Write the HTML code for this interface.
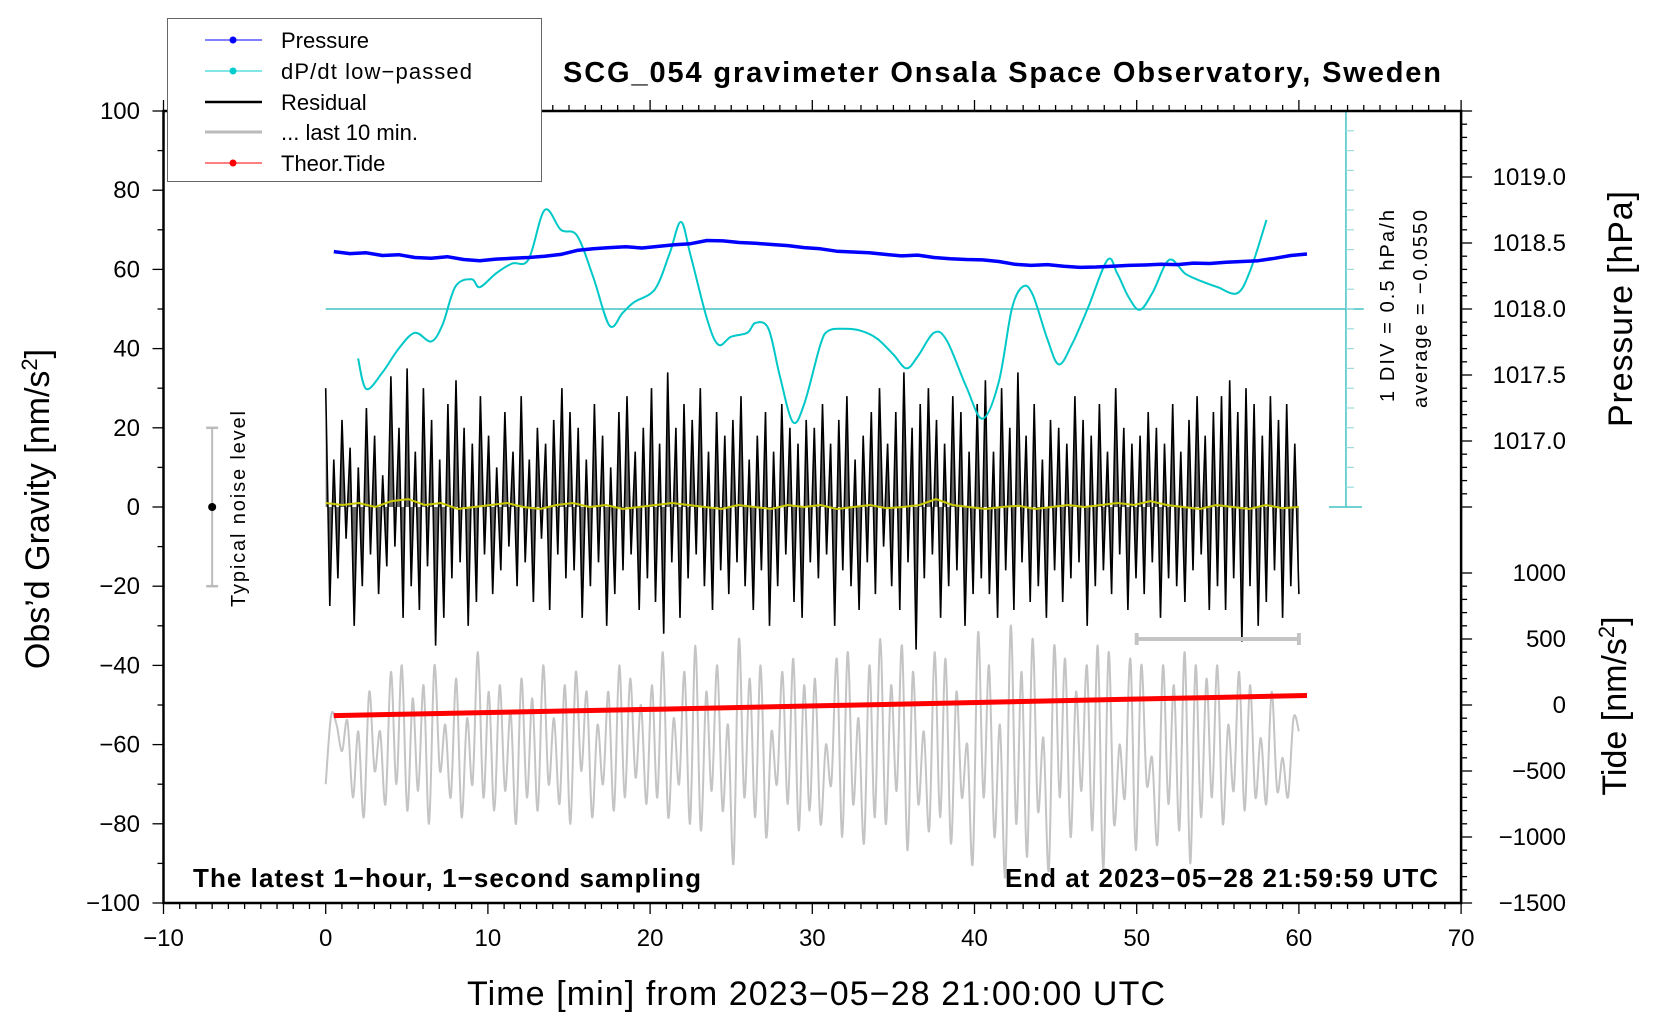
<!DOCTYPE html>
<html><head><meta charset="utf-8"><style>
html,body{margin:0;padding:0;background:#fff;}
svg{display:block;font-family:"Liberation Sans",Arial,sans-serif;}
</style></head><body>
<svg id="chart" width="1660" height="1020" viewBox="0 0 1660 1020">
<rect width="1660" height="1020" fill="#fff"/>
<g id="plot"></g>
<g id="axes"></g>
<text x="1002" y="82" text-anchor="middle" font-size="29" font-weight="bold" textLength="878">SCG_054 gravimeter Onsala Space Observatory, Sweden</text>
<text x="193" y="887" font-size="26" font-weight="bold" textLength="508">The latest 1−hour, 1−second sampling</text>
<text x="1438" y="887" text-anchor="end" font-size="26" font-weight="bold" textLength="433">End at 2023−05−28 21:59:59 UTC</text>
<text x="816" y="1005" text-anchor="middle" font-size="34" textLength="698">Time [min] from 2023−05−28 21:00:00 UTC</text>
<text transform="translate(49,509) rotate(-90)" text-anchor="middle" font-size="34">Obs’d Gravity [nm/s<tspan dy="-12" font-size="22">2</tspan><tspan dy="12">]</tspan></text>
<text transform="translate(1632,309) rotate(-90)" text-anchor="middle" font-size="34" textLength="236">Pressure [hPa]</text>
<text transform="translate(1626,706) rotate(-90)" text-anchor="middle" font-size="34">Tide [nm/s<tspan dy="-12" font-size="22">2</tspan><tspan dy="12">]</tspan></text>
<text transform="translate(1394,306) rotate(-90)" text-anchor="middle" font-size="20" textLength="192">1 DIV = 0.5 hPa/h</text>
<text transform="translate(1427,309) rotate(-90)" text-anchor="middle" font-size="20" textLength="198">average = −0.0550</text>
<text transform="translate(245,509) rotate(-90)" text-anchor="middle" font-size="20" textLength="196">Typical noise level</text>
<g>
<rect x="167.5" y="18.5" width="374" height="163" fill="#fff" stroke="#666" stroke-width="1"/>
<g><line x1="205" y1="40" x2="262" y2="40" stroke="#00f" stroke-width="1"/><circle cx="233" cy="40" r="3.5" fill="#00f"/><text x="281" y="48" font-size="22">Pressure</text></g>
<g><line x1="205" y1="71" x2="262" y2="71" stroke="#0cc" stroke-width="1"/><circle cx="233" cy="71" r="3.5" fill="#0cc"/><text x="281" y="79" font-size="22" textLength="191">dP/dt low−passed</text></g>
<g><line x1="205" y1="102" x2="262" y2="102" stroke="#000" stroke-width="2.5"/><text x="281" y="110" font-size="22">Residual</text></g>
<g><line x1="205" y1="132" x2="262" y2="132" stroke="#bbb" stroke-width="3"/><text x="281" y="140" font-size="22">... last 10 min.</text></g>
<g><line x1="205" y1="163" x2="262" y2="163" stroke="#f00" stroke-width="1"/><circle cx="233" cy="163" r="3.5" fill="#f00"/><text x="281" y="171" font-size="22">Theor.Tide</text></g>
</g>
</svg>
<script>
// ---------- data ----------
const xTicks = [-10,0,10,20,30,40,50,60,70];
const yTicks = [-100,-80,-60,-40,-20,0,20,40,60,80,100];
const pressureTicks = [1017.0,1017.5,1018.0,1018.5,1019.0];
const tideTicks = [-1500,-1000,-500,0,500,1000];
const pressureStart = 0.5, pressureStep = 1;
const pressureValues = [1018.435,1018.42,1018.426,1018.405,1018.411,1018.39,1018.384,1018.396,1018.375,1018.366,1018.378,1018.384,1018.39,1018.399,1018.414,1018.444,1018.456,1018.465,1018.471,1018.462,1018.474,1018.486,1018.495,1018.519,1018.516,1018.504,1018.498,1018.489,1018.48,1018.465,1018.456,1018.438,1018.432,1018.426,1018.414,1018.402,1018.408,1018.39,1018.381,1018.375,1018.372,1018.36,1018.339,1018.33,1018.336,1018.324,1018.315,1018.318,1018.324,1018.33,1018.333,1018.339,1018.336,1018.348,1018.345,1018.354,1018.36,1018.366,1018.384,1018.405,1018.417];
const dpdtTimes = [2,2.5,3.5,4.5,5.5,6.5,7.2,8,9,9.5,10.5,11.5,12.5,13.5,14.5,15.5,16.5,17.5,18.3,19,20.3,21.2,21.9,22.5,23.5,24.2,25,26,26.5,27.3,28,28.8,29.5,30.5,31,32,33,34,35,35.8,36.5,37.5,38.3,39.5,40.5,41.5,42.3,43,43.6,44.5,45.2,46,47,48.2,48.8,49.5,50.2,51,52,53,54,55,56.2,57,58];
const dpdtValues = [-1.25,-2.02,-1.6,-1.0,-0.6,-0.82,-0.4,0.57,0.75,0.55,0.9,1.15,1.25,2.5,2.0,1.85,0.8,-0.42,-0.1,0.17,0.5,1.4,2.2,1.35,-0.24,-0.9,-0.7,-0.6,-0.35,-0.5,-1.7,-2.85,-2.4,-0.9,-0.55,-0.5,-0.55,-0.75,-1.15,-1.5,-1.2,-0.6,-0.8,-1.97,-2.77,-1.84,0.0,0.57,0.35,-0.77,-1.4,-0.9,0.03,1.24,0.9,0.3,-0.02,0.43,1.24,0.89,0.7,0.55,0.4,0.97,2.25];
const tideStart = 0.5, tideStep = 5;
const tideValues = [-80,-68,-56,-44,-32,-19,-6,7,20,33,46,59,72];
const last10Values = [-600,-80,-150,-350,-120,-700,-200,-850,100,-500,-200,-750,250,-600,300,-800,50,-650,150,-900,300,-500,-150,-700,200,-850,-100,-600,400,-700,
100,-800,150,-650,-50,-900,200,-700,50,-800,300,-600,-100,-750,150,-900,250,-500,100,-850,-150,-600,100,-800,300,-700,200,-550,0,-750,
150,-700,400,-850,-100,-600,250,-900,450,-950,100,-650,300,-800,-150,-1200,500,-700,200,-850,300,-1000,-200,-600,250,-750,350,-950,150,-800,
200,-900,-300,-600,350,-1000,400,-750,-100,-1050,300,-850,500,-900,150,-650,450,-1100,250,-750,-200,-950,400,-850,350,-1050,100,-700,-300,-1200,
550,-700,300,-1000,-150,-1300,600,-900,250,-1150,500,-800,-250,-1250,450,-700,350,-1000,100,-650,300,-950,450,-1250,400,-900,-300,-700,350,-1100,
300,-600,-400,-1050,300,-750,150,-950,400,-1200,300,-850,200,-700,300,-900,-150,-650,250,-800,150,-700,-250,-750,100,-650,-400,-700,-100,-200];
const residualValues = [30,-25,12,-18,22,-8,15,-30,10,-20,25,-12,18,-22,8,-15,33,-10,20,-28,
35,-20,14,-26,30,-15,22,-35,12,-28,26,-18,32,-14,20,-30,16,-24,28,-12,
18,-22,10,-16,24,-10,14,-20,28,-14,12,-24,20,-8,16,-26,22,-12,30,-18,
24,-16,20,-28,12,-20,26,-14,18,-30,10,-22,24,-16,28,-12,14,-26,20,-18,
30,-24,16,-32,34,-14,20,-28,26,-18,22,-12,30,-20,14,-26,24,-16,18,-22,
22,-14,28,-20,12,-26,18,-16,24,-30,14,-20,26,-12,20,-24,16,-28,22,-14,
20,-18,26,-12,16,-30,22,-16,28,-20,12,-26,18,-14,24,-22,30,-10,16,-20,
24,-26,34,-14,20,-36,26,-18,30,-12,22,-28,16,-20,28,-16,24,-30,14,-22,
26,-18,32,-22,14,-28,30,-16,20,-26,34,-14,18,-24,26,-20,12,-28,22,-16,
20,-24,16,-18,28,-14,22,-30,18,-20,26,-16,14,-22,30,-12,20,-26,16,-18,
18,-22,24,-14,20,-28,16,-18,26,-20,14,-24,22,-16,28,-12,18,-26,24,-20,
28,-26,32,-18,24,-34,30,-20,26,-30,18,-24,28,-16,22,-28,26,-20,16,-22];
const smoothValues = [1,0.5,1,0,1.5,2,0.5,1,-0.5,0,0.5,1,0,-0.5,0.5,1,0,0.5,-0.5,0,0.5,1,0.5,0,-0.5,0.5,0,-0.5,0.5,0,0.5,-0.5,0,0.5,-0.3,0,0.5,2,0.5,0,-0.5,0,0.3,-0.5,0,0.5,0,0.5,1,0.5,1.5,0.5,0,-0.5,0.5,0,-0.5,0.5,-0.3,0];
const noiseLevel = 20;
const noiseAt = -7;
const dpdtAxisAt = 62.9;
const dpdtLineEnd = 64;
const last10Bar = [50,60];
const last10BarLevel = 500;

// ---------- scales ----------
const X = t => 325.7 + t*16.22;
const YL = v => 903 - (v+100)*3.96;
const YP = p => YL(50 + (p-1018)*33.333);
const YT = T => YL(-50 + T/30);
const YD = d => YL(50 + d*10);

const NS = 'http://www.w3.org/2000/svg';
const plot = document.getElementById('plot');
const axes = document.getElementById('axes');
function mk(tag, attrs, parent){
  const e = document.createElementNS(NS, tag);
  for (const k in attrs) e.setAttribute(k, attrs[k]);
  parent.appendChild(e);
  return e;
}
function linePath(pts){ return pts.map((p,i)=>(i?'L':'M')+p[0].toFixed(1)+' '+p[1].toFixed(1)).join(''); }
function smoothPath(pts){
  let d = 'M'+pts[0][0].toFixed(1)+' '+pts[0][1].toFixed(1);
  for (let i=0;i<pts.length-1;i++){
    const p0=pts[Math.max(0,i-1)], p1=pts[i], p2=pts[i+1], p3=pts[Math.min(pts.length-1,i+2)];
    const c1=[p1[0]+(p2[0]-p0[0])/6, p1[1]+(p2[1]-p0[1])/6];
    const c2=[p2[0]-(p3[0]-p1[0])/6, p2[1]-(p3[1]-p1[1])/6];
    d += 'C'+c1[0].toFixed(1)+' '+c1[1].toFixed(1)+' '+c2[0].toFixed(1)+' '+c2[1].toFixed(1)+' '+p2[0].toFixed(1)+' '+p2[1].toFixed(1);
  }
  return d;
}

// last 10 min (gray)
let pts = last10Values.map((v,i)=>[X(i*60/(last10Values.length-1)), YT(v)]);
let el = mk('path',{d:smoothPath(pts),fill:'none',stroke:'#c4c4c4','stroke-width':2},plot);



// residual (black) — filled to zero for dense look
pts = residualValues.map((v,i)=>[X(i*60/(residualValues.length-1)), YL(v)]);
const areaD = linePath(pts) + 'L' + X(60).toFixed(1) + ' ' + YL(0).toFixed(1) + 'L' + X(0).toFixed(1) + ' ' + YL(0).toFixed(1) + 'Z';
el = mk('path',{d:areaD,fill:'#000','fill-opacity':0.6,stroke:'none'},plot);


el = mk('path',{d:linePath(pts),fill:'none',stroke:'#000','stroke-width':1.6},plot);



// smoothed residual (yellow)
pts = smoothValues.map((v,i)=>[X(i*60/(smoothValues.length-1)), YL(v)]);
el = mk('path',{d:linePath(pts),fill:'none',stroke:'#c8c800','stroke-width':2},plot);



// tide (red)
pts = tideValues.map((v,i)=>[X(tideStart+i*tideStep), YT(v)]);
el = mk('path',{d:linePath(pts),fill:'none',stroke:'#f00','stroke-width':5},plot);



// dP/dt zero line and axis
el = mk('line',{x1:X(0),y1:YD(0),x2:X(dpdtLineEnd),y2:YD(0),stroke:'#44c4c4','stroke-width':1.5},plot);


const dAx = mk('g',{},plot);


mk('line',{x1:X(dpdtAxisAt),y1:YL(0),x2:X(dpdtAxisAt),y2:YL(100),stroke:'#44c4c4','stroke-width':1.5},dAx);
mk('line',{x1:X(dpdtAxisAt)-17,y1:YL(0),x2:X(dpdtAxisAt)+16,y2:YL(0),stroke:'#44c4c4','stroke-width':1.5},dAx);
for (let v=5; v<=100; v+=5){
  mk('line',{x1:X(dpdtAxisAt),y1:YL(v),x2:X(dpdtAxisAt)+8,y2:YL(v),stroke:'#9ddcdc','stroke-width':1.2},dAx);
}

// dP/dt curve
pts = dpdtValues.map((v,i)=>[X(dpdtTimes[i]), YD(v)]);
el = mk('path',{d:smoothPath(pts),fill:'none',stroke:'#00c8c8','stroke-width':2},plot);



// pressure (blue)
pts = pressureValues.map((v,i)=>[X(pressureStart+i*pressureStep), YP(v)]);
el = mk('path',{d:linePath(pts),fill:'none',stroke:'#00f','stroke-width':3.5,'stroke-linejoin':'round'},plot);



// noise level error bar
const nb = mk('g',{},plot);


mk('line',{x1:X(noiseAt),y1:YL(-noiseLevel),x2:X(noiseAt),y2:YL(noiseLevel),stroke:'#bbb','stroke-width':2},nb);
mk('line',{x1:X(noiseAt)-6,y1:YL(-noiseLevel),x2:X(noiseAt)+6,y2:YL(-noiseLevel),stroke:'#bbb','stroke-width':2.5},nb);
mk('line',{x1:X(noiseAt)-6,y1:YL(noiseLevel),x2:X(noiseAt)+6,y2:YL(noiseLevel),stroke:'#bbb','stroke-width':2.5},nb);
mk('circle',{cx:X(noiseAt),cy:YL(0),r:4,fill:'#000'},nb);

// last-10-min bar
const lb = mk('g',{},plot);


mk('line',{x1:X(last10Bar[0]),y1:YT(last10BarLevel),x2:X(last10Bar[1]),y2:YT(last10BarLevel),stroke:'#c4c4c4','stroke-width':4},lb);
mk('line',{x1:X(last10Bar[0]),y1:YT(last10BarLevel)-6,x2:X(last10Bar[0]),y2:YT(last10BarLevel)+6,stroke:'#c4c4c4','stroke-width':4},lb);
mk('line',{x1:X(last10Bar[1]),y1:YT(last10BarLevel)-6,x2:X(last10Bar[1]),y2:YT(last10BarLevel)+6,stroke:'#c4c4c4','stroke-width':4},lb);

// ---------- axes ----------
const L = X(-10), R = X(70), T = YL(100), B = YL(-100);
el = mk('rect',{x:L,y:T,width:R-L,height:B-T,fill:'none',stroke:'#000','stroke-width':2.5},axes);


for (let t=-10; t<=70; t+=1){
  const major = t%10===0;
  const len = major?11:6;
  mk('line',{x1:X(t),y1:B,x2:X(t),y2:B+len,stroke:'#000','stroke-width':1.3},axes);
  mk('line',{x1:X(t),y1:T,x2:X(t),y2:T-len,stroke:'#000','stroke-width':1.3},axes);
}
xTicks.forEach(t=>{
  const tx = mk('text',{x:X(t),y:946,'text-anchor':'middle','font-size':24},axes);
  tx.textContent = String(t).replace('-','−');
  
  
});
for (let v=-100; v<=100; v+=10){
  const len = v%20===0?11:6;
  mk('line',{x1:L,y1:YL(v),x2:L-len,y2:YL(v),stroke:'#000','stroke-width':1.3},axes);
}
yTicks.forEach(v=>{
  const tx = mk('text',{x:140,y:YL(v)+8,'text-anchor':'end','font-size':24},axes);
  tx.textContent = String(v).replace('-','−');
  
  
});
for (let k=0; k<=30; k++){
  const p = 1016.5 + k*0.1;
  if (YP(p) < T-0.5) break;
  const major = Math.abs((p*2)-Math.round(p*2))<1e-6;
  mk('line',{x1:R,y1:YP(p),x2:R+(major?11:6),y2:YP(p),stroke:'#000','stroke-width':1.3},axes);
}
pressureTicks.forEach(p=>{
  const tx = mk('text',{x:1566,y:YP(p)+8,'text-anchor':'end','font-size':24},axes);
  tx.textContent = p.toFixed(1);
  
  
});
for (let v=-1500; v<=1000; v+=100){
  const major = v%500===0;
  mk('line',{x1:R,y1:YT(v),x2:R+(major?11:6),y2:YT(v),stroke:'#000','stroke-width':1.3},axes);
}
tideTicks.forEach(v=>{
  const tx = mk('text',{x:1566,y:YT(v)+8,'text-anchor':'end','font-size':24},axes);
  tx.textContent = String(v).replace('-','−');
  
  
});
</script>
</body></html>
